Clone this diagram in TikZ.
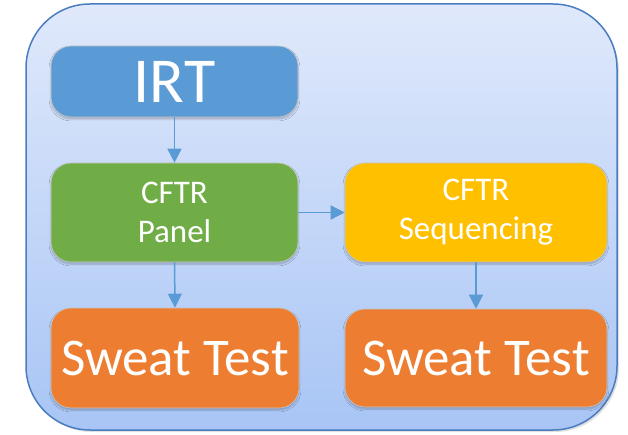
\documentclass[tikz,border=0pt]{standalone}
\usepackage{fontspec}
\setmainfont{Carlito}
\usetikzlibrary{arrows.meta,shadows.blur}
\definecolor{frameblue}{HTML}{4A7DC0}
\definecolor{bgtop}{HTML}{E0E9FB}
\definecolor{bgbot}{HTML}{A8C5F5}
\definecolor{irtblue}{HTML}{5B9BD5}
\definecolor{panelgreen}{HTML}{70AD47}
\definecolor{seqgold}{HTML}{FFC000}
\definecolor{sweatorange}{HTML}{ED7D31}
\definecolor{arrowblue}{HTML}{5B9BD5}
\tikzset{
  stepbox/.style={draw=black!22, line width=0.6pt, rounded corners=20pt,
    text=white, align=center, inner sep=0pt,
    blur shadow={shadow xshift=0pt, shadow yshift=-2pt, shadow blur steps=6, shadow opacity=25}},
  flow/.style={draw=arrowblue, line width=1.5pt,
    -{Triangle[length=14pt, width=14pt]}},
}
\begin{document}
\begin{tikzpicture}[x=1pt, y=-1pt]
\useasboundingbox (0,0) rectangle (628,435);
% outer panel with a soft drop shadow
\fill[black, opacity=0.12, rounded corners=64pt] (28,7) rectangle (619,432);
\shade[top color=bgtop, bottom color=bgbot, draw=frameblue, line width=1.5pt,
  rounded corners=64pt] (26,4) rectangle (617,430);
% boxes
\node[stepbox, fill=irtblue, minimum width=247pt, minimum height=71pt,
  font=\fontsize{64}{64}\selectfont] (irt) at (174.5,81.5) {IRT};
\node[stepbox, fill=panelgreen, minimum width=247pt, minimum height=99pt,
  font=\fontsize{33}{39}\selectfont] (panel) at (174.5,212.5) {CFTR\\Panel};
\node[stepbox, fill=seqgold, minimum width=262pt, minimum height=99pt,
  font=\fontsize{33}{39}\selectfont] (seq) at (476,212.5) {CFTR\\Sequencing};
\node[stepbox, fill=sweatorange, minimum width=248pt, minimum height=100pt,
  font=\fontsize{53}{53}\selectfont] (sweat1) at (175,358) {Sweat Test};
\node[stepbox, fill=sweatorange, minimum width=262pt, minimum height=98pt,
  font=\fontsize{53}{53}\selectfont] (sweat2) at (476,358) {Sweat Test};
% connectors
\draw[flow] (irt.south) -- (panel.north);
\draw[flow] (panel.south) -- (sweat1.north);
\draw[flow] (panel.east) -- (seq.west);
\draw[flow] (seq.south) -- (sweat2.north);
\end{tikzpicture}
\end{document}
